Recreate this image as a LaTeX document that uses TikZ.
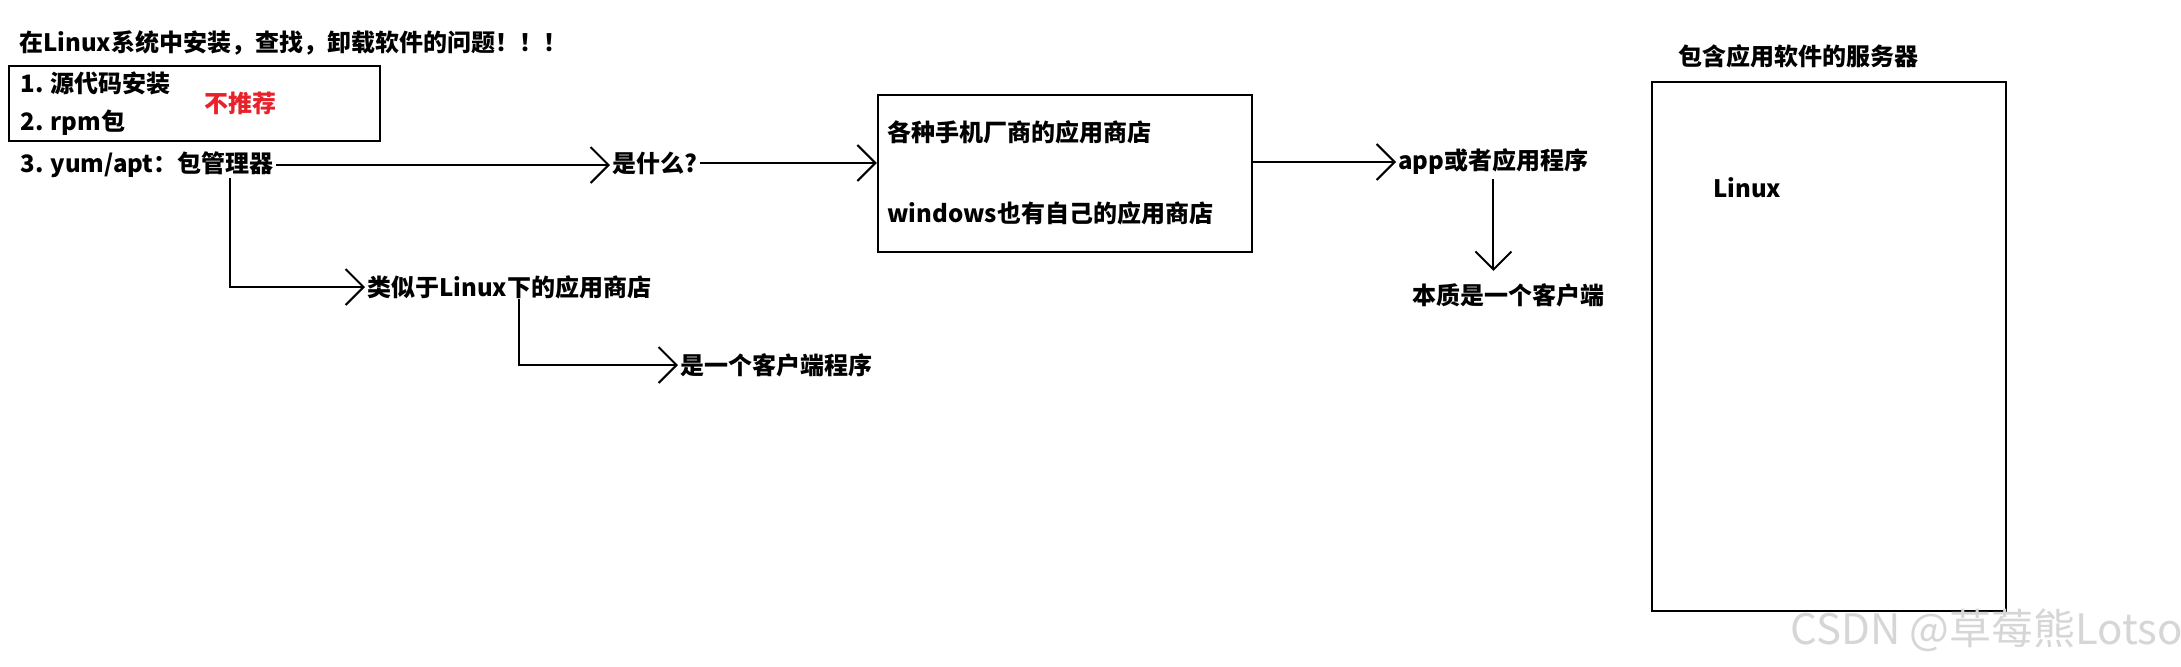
\documentclass[tikz,border=0pt]{standalone}
\usepackage{fontspec}
\setmainfont{Noto Sans CJK SC}
\usetikzlibrary{arrows.meta,positioning,fit}
\definecolor{cInk}{HTML}{000000}
\definecolor{cRed}{HTML}{E8212B}
\definecolor{cMark}{HTML}{D6D6D6}
\tikzset{
  txt/.style={font=\fontsize{12pt}{14pt}\selectfont\bfseries, text=cInk,
    anchor=west, inner xsep=1pt, inner ysep=0pt},
}
\begin{document}
\begin{tikzpicture}[
  x=0.5pt, y=-0.5pt,
  frame/.style={draw=cInk, line width=1.2pt, inner sep=0pt},
  flow/.style={-{Straight Barb[length=9pt,width=18pt]}, line width=1pt, cInk},
  warn/.style={txt, text=cRed},
  wm/.style={anchor=west, inner sep=0pt, font=\fontsize{21pt}{24pt}\selectfont,
    text=cMark},
]
\useasboundingbox[fill=white] (0,0) rectangle (2181,666);
% left column
\node[txt] (title) at (17,43) {在Linux系统中安装，查找，卸载软件的问题！！！};
\node[txt] (src) at (18,83) {1. 源代码安装};
\node[txt] (rpm) at (18,123) {2. rpm包};
\node[warn] (norec) at (202,103) {不推荐};
\node[frame, fit={(9,66) (380,141)}] (oldway) {};
\node[txt] (pkgmgr) at (18,165) {3. yum/apt：包管理器};
\node[txt] (what) at (610,163) {是什么?};
\node[txt] (yumstore) at (365,287) {类似于Linux下的应用商店};
\node[txt] (client) at (678,365) {是一个客户端程序};
% app stores
\node[frame, fit={(878,95) (1252,252)}] (store) {};
\node[txt] (phone) at (885,132) {各种手机厂商的应用商店};
\node[txt] (win) at (885,213) {windows也有自己的应用商店};
\node[txt] (app) at (1396,162) {app或者应用程序};
\node[txt] (essence) at (1410,295) {本质是一个客户端};
% server
\node[txt] (srvtitle) at (1676,56) {包含应用软件的服务器};
\node[frame, fit={(1652,82) (2006,611)}] (server) {};
\node[txt] (srvos) at (1711,188) {Linux};
\node[wm] (credit) at (1790,630) {CSDN @草莓熊Lotso};
% arrows
\coordinate (pmfork) at ([shift={(-46,0)}]pkgmgr.south east);
\coordinate (lsfork) at ([shift={(154,0)}]yumstore.south west);
\draw[flow] (pkgmgr.east) -- (pkgmgr.east -| what.west);
\draw[flow] (what.east) -- (what.east -| store.west);
\draw[flow] (app.west -| store.east) -- (app.west);
\draw[flow, shorten <=2pt, shorten >=6pt] (app.south) -- (app.south |- essence.north);
\draw[flow] (pmfork) |- (yumstore.west);
\draw[flow] (lsfork) |- (client.west);
\end{tikzpicture}
\end{document}
